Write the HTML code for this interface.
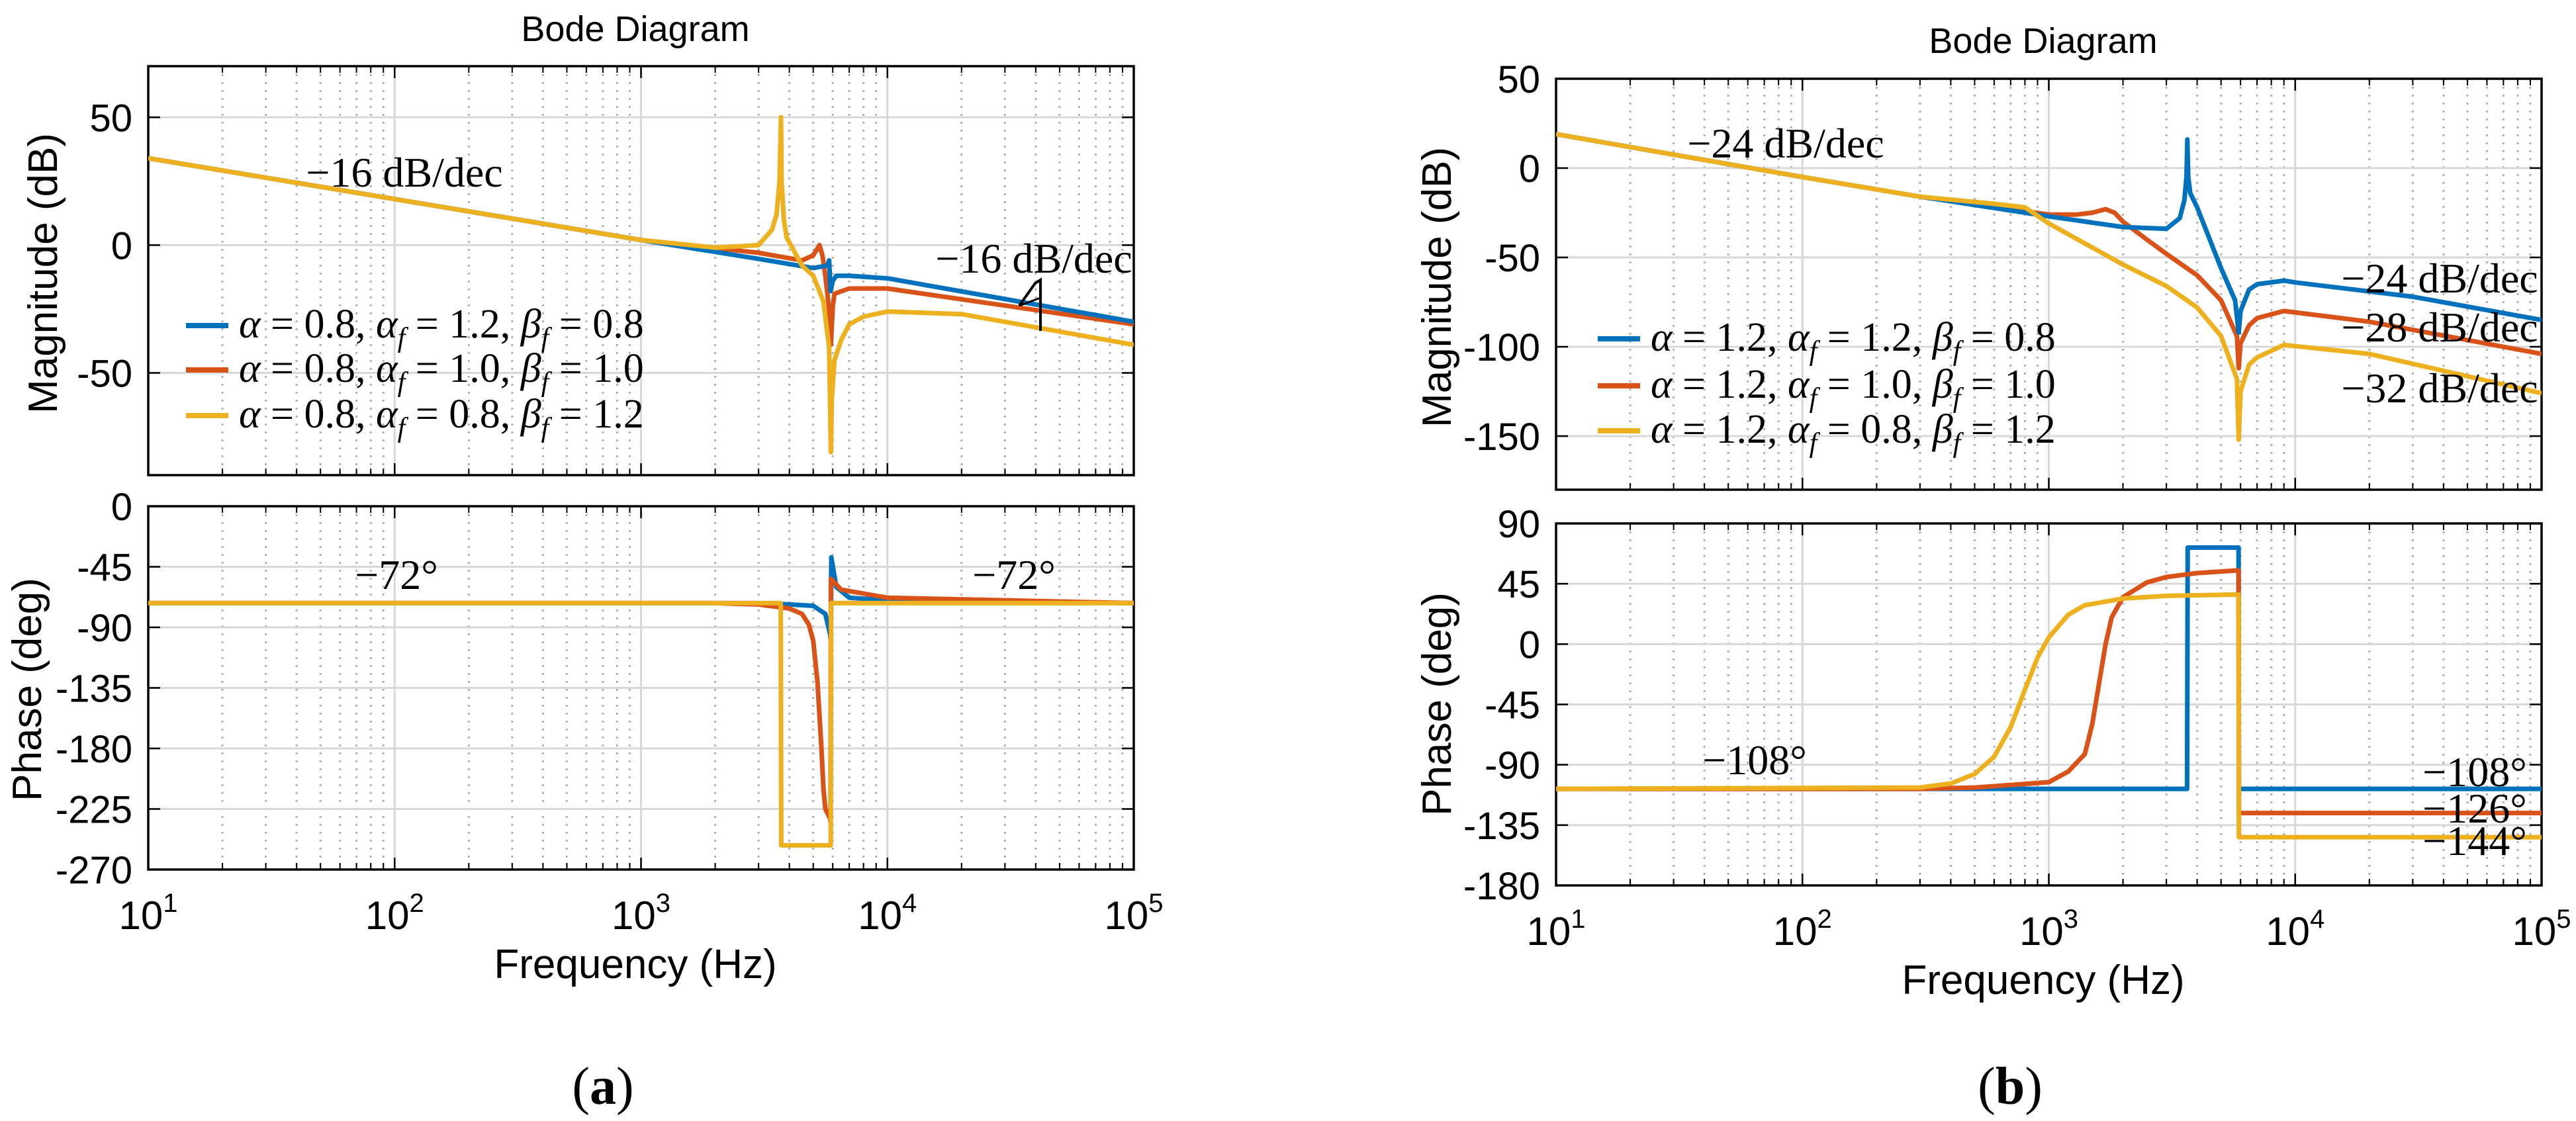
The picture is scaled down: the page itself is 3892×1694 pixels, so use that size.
<!DOCTYPE html>
<html><head><meta charset="utf-8"><style>
html,body{margin:0;padding:0;background:#fff;}
svg{display:block;}
text{font-family:"Liberation Sans",sans-serif;}
.serif{font-family:"Liberation Serif",serif;}
</style></head><body>
<svg id="fig" width="3892" height="1694" viewBox="0 0 3892 1694" xmlns="http://www.w3.org/2000/svg"></svg>
<script>
// ---------- DATA (freq Hz, value) ----------
const aMagBlue = [[10,34],[100,18],[1000,2],[3000,-5.4],[5000,-9],[5700,-8],[5800,-6],[5880,-18],[6000,-14],[6200,-12],[7000,-12],[10000,-13],[100000,-30]];
const aMagRed = [[10,34],[100,18],[1000,2],[3000,-3],[4500,-6],[5000,-4],[5300,0],[5450,-4],[5600,-12],[5800,-25],[5900,-39],[6000,-24],[6100,-19],[7000,-17],[10000,-17],[100000,-31]];
const aMagYellow = [[10,34],[100,18],[1000,2],[2000,-1],[3000,0],[3400,6],[3550,12],[3650,25],[3700,50],[3720,25],[3800,10],[3900,3],[4500,-8],[5000,-12],[5500,-22],[5800,-40],[5900,-81],[5950,-60],[6100,-45],[6500,-37],[7000,-31],[8000,-28],[10000,-26],[20000,-27],[100000,-39]];
const aPhBlue = [[10,-72],[3000,-72],[4000,-73],[5000,-74],[5600,-80],[5850,-95],[5900,-100],[5920,-38],[6200,-60],[7000,-68],[10000,-70],[100000,-72]];
const aPhRed = [[10,-72],[2000,-72],[3000,-73],[4000,-76],[4500,-80],[4800,-88],[5000,-100],[5200,-130],[5400,-180],[5500,-210],[5600,-225],[5850,-232],[5880,-235],[5900,-54],[6500,-62],[10000,-68],[100000,-72]];
const aPhYellow = [[10,-72],[3690,-72],[3710,-252],[5890,-252],[5910,-72],[100000,-72]];

const bMagBlue = [[10,19],[100,-5],[300,-16],[1000,-27],[2000,-33],[3000,-34],[3400,-28],[3550,-18],[3620,-5],[3650,16],[3680,-5],[3750,-14],[4000,-22],[5000,-56],[5700,-74],[5900,-92],[6000,-80],[6500,-68],[7000,-65],[9000,-63],[10000,-64],[30000,-72],[100000,-85]];
const bMagRed = [[10,19],[100,-5],[300,-16],[1000,-26],[1300,-26],[1500,-25],[1700,-23],[1850,-25],[2000,-30],[2500,-40],[3000,-48],[4000,-60],[5000,-74],[5800,-94],[5900,-112],[6000,-98],[6500,-88],[7000,-84],[9000,-80],[20000,-86],[100000,-104]];
const bMagYellow = [[10,19],[100,-5],[300,-16],[600,-20],[800,-22],[1000,-31],[2000,-54],[3000,-66],[4000,-78],[5000,-94],[5800,-118],[5900,-152],[6000,-125],[6500,-110],[7000,-106],[9000,-99],[20000,-104],[100000,-126]];
const bPhBlue = [[10,-108],[3640,-108],[3660,72],[5890,72],[5910,-108],[100000,-108]];
const bPhRed = [[10,-108],[300,-108],[500,-107],[1000,-103],[1200,-95],[1400,-82],[1500,-60],[1600,-29],[1700,0],[1800,20],[2000,35],[2500,46],[3000,50],[4000,53],[5890,55],[5910,-126],[100000,-126]];
const bPhYellow = [[10,-108],[300,-107],[400,-104],[500,-97],[600,-84],[700,-62],[800,-34],[900,-10],[1000,5],[1200,22],[1400,29],[2000,34],[3000,36],[5890,37],[5910,-144],[100000,-144]];

const magTicksA = [50,0,-50];
const phTicksA = [0,-45,-90,-135,-180,-225,-270];
const magTicksB = [50,0,-50,-100,-150];
const phTicksB = [90,45,0,-45,-90,-135,-180];
const decades = [1,2,3,4,5];

const COLORS = ['#0072BD','#D95319','#EDB120'];
const NS='http://www.w3.org/2000/svg';
const svg=document.getElementById('fig');
function el(tag,attrs,parent){const e=document.createElementNS(NS,tag);for(const k in attrs)e.setAttribute(k,attrs[k]);(parent||svg).appendChild(e);return e;}

function axes(name,x0,x1,y0,y1,ymin,ymax,yticks,showX){
  const g=el('g',{});
  
  
  const X=f=>x0+(Math.log10(f)-1)/4*(x1-x0);
  const Y=v=>y1-(v-ymin)/(ymax-ymin)*(y1-y0);
  for(let d=1;d<5;d++)for(let m=2;m<10;m++){
    const x=X(m*Math.pow(10,d));
    const l=el('line',{x1:x,x2:x,y1:y0,y2:y1,stroke:'#b0b0b0','stroke-width':3,'stroke-dasharray':'3,9'},g);
    
    el('line',{x1:x,x2:x,y1:y1,y2:y1-10,stroke:'#000','stroke-width':2},g);
    el('line',{x1:x,x2:x,y1:y0,y2:y0+10,stroke:'#000','stroke-width':2},g);
  }
  decades.forEach(d=>{
    const x=X(Math.pow(10,d));
    el('line',{x1:x,x2:x,y1:y0,y2:y1,stroke:'#d8d8d8','stroke-width':3},g);
    el('line',{x1:x,x2:x,y1:y1,y2:y1-18,stroke:'#000','stroke-width':2.5},g);
    el('line',{x1:x,x2:x,y1:y0,y2:y0+18,stroke:'#000','stroke-width':2.5},g);
    if(showX){
      const t=el('text',{x:x,y:y1+90,'font-size':60,'text-anchor':'middle'},g);
      
      
      t.textContent='10';
      const s=el('tspan',{dy:-26,'font-size':40},t);s.textContent=String(d);
    }
  });
  yticks.forEach(v=>{
    const y=Y(v);
    if(v!==ymax&&v!==ymin) el('line',{x1:x0,x2:x1,y1:y,y2:y,stroke:'#d8d8d8','stroke-width':3},g);
    el('line',{x1:x0,x2:x0+18,y1:y,y2:y,stroke:'#000','stroke-width':2.5},g);
    el('line',{x1:x1,x2:x1-18,y1:y,y2:y,stroke:'#000','stroke-width':2.5},g);
    const t=el('text',{x:x0-24,y:y+21,'font-size':58,'text-anchor':'end'},g);
    
    
    t.textContent=String(v);
  });
  el('rect',{x:x0,y:y0,width:x1-x0,height:y1-y0,fill:'none',stroke:'#000','stroke-width':3.5},g);
  return {X,Y,g,x0,x1,y0,y1};
}
function series(ax,data,color,name){
  const cp=el('clipPath',{id:'c'+name});
  el('rect',{x:ax.x0,y:ax.y0,width:ax.x1-ax.x0,height:ax.y1-ax.y0},cp);
  const p=el('polyline',{points:data.map(d=>ax.X(d[0]).toFixed(1)+','+ax.Y(d[1]).toFixed(1)).join(' '),fill:'none',stroke:color,'stroke-width':7,'stroke-linejoin':'round','clip-path':'url(#c'+name+')'});
  
  
}
function txt(x,y,s,size,cls,anchor,name){
  const t=el('text',{x:x,y:y,'font-size':size,'text-anchor':anchor||'middle'});
  if(cls)t.setAttribute('class',cls);
  
  
  t.textContent=s;return t;
}
function legend(x,y,color,a,af,bf,name){
  el('line',{x1:x,x2:x+64,y1:y-18,y2:y-18,stroke:color,'stroke-width':8});
  const t=el('text',{x:x+80,y:y,'font-size':62,class:'serif'});
  
  
  const parts=[['α','i'],[' = '+a+', ',''],['α','i'],['f','s'],[' = '+af+', ',''],['β','i'],['f','s'],[' = '+bf,'']];
  parts.forEach((p,i)=>{const s=el('tspan',{},t);s.textContent=p[0];
    if(p[1]==='i')s.setAttribute('font-style','italic');
    if(p[1]==='s'){s.setAttribute('font-style','italic');s.setAttribute('font-size',42);s.setAttribute('dy',14);}
    else if(i>0 && parts[i-1][1]==='s'){s.setAttribute('dy',-14);}
  });
}

// ---------- Plot (a) ----------
const am=axes('magnitude-axes-a',224,1713,100,718,-90,70,magTicksA,false);
const ap=axes('phase-axes-a',224,1713,765,1314,-270,0,phTicksA,true);
series(am,aMagRed,COLORS[1],'mag-a-red');
series(am,aMagBlue,COLORS[0],'mag-a-blue');
series(am,aMagYellow,COLORS[2],'mag-a-yellow');
series(ap,aPhBlue,COLORS[0],'phase-a-blue');
series(ap,aPhRed,COLORS[1],'phase-a-red');
series(ap,aPhYellow,COLORS[2],'phase-a-yellow');
txt(960,62,'Bode Diagram',54,'','middle','title-a');
txt(960,1478,'Frequency  (Hz)',62,'','middle','x-axis-title-a');
let t=txt(0,0,'Magnitude (dB)',62,'','middle','y-axis-title-mag-a');t.setAttribute('transform','translate(86,413) rotate(-90)');
t=txt(0,0,'Phase (deg)',62,'','middle','y-axis-title-phase-a');t.setAttribute('transform','translate(62,1042) rotate(-90)');
txt(611,282,'−16 dB/dec',64,'serif','middle','slope-label-a-low');
txt(1562,412,'−16 dB/dec',64,'serif','middle','slope-label-a-high');
el('polyline',{points:'1540,462 1564,428 1572,423 1572,500',fill:'none',stroke:'#000','stroke-width':4});
el('line',{x1:1540,y1:462,x2:1572,y2:450,stroke:'#000','stroke-width':3});
txt(599,890,'−72°',64,'serif','middle','phase-label-a-low');
txt(1532,890,'−72°',64,'serif','middle','phase-label-a-high');
legend(281,510,COLORS[0],'0.8','1.2','0.8','legend-a-blue');
legend(281,577,COLORS[1],'0.8','1.0','1.0','legend-a-red');
legend(281,646,COLORS[2],'0.8','0.8','1.2','legend-a-yellow');
t=txt(911,1668,'(',80,'serif','middle','caption-a');
let s=el('tspan',{'font-weight':'bold'},t);s.textContent='a';
s=el('tspan',{},t);s.textContent=')';
t.firstChild.textContent='(';

// ---------- Plot (b) ----------
const bm=axes('magnitude-axes-b',2351,3840,119,740,-180,50,magTicksB,false);
const bp=axes('phase-axes-b',2351,3840,791,1338,-180,90,phTicksB,true);
series(bm,bMagRed,COLORS[1],'mag-b-red');
series(bm,bMagBlue,COLORS[0],'mag-b-blue');
series(bm,bMagYellow,COLORS[2],'mag-b-yellow');
series(bp,bPhBlue,COLORS[0],'phase-b-blue');
series(bp,bPhRed,COLORS[1],'phase-b-red');
series(bp,bPhYellow,COLORS[2],'phase-b-yellow');
txt(3087,80,'Bode Diagram',54,'','middle','title-b');
txt(3087,1502,'Frequency  (Hz)',62,'','middle','x-axis-title-b');
t=txt(0,0,'Magnitude (dB)',62,'','middle','y-axis-title-mag-b');t.setAttribute('transform','translate(2192,434) rotate(-90)');
t=txt(0,0,'Phase (deg)',62,'','middle','y-axis-title-phase-b');t.setAttribute('transform','translate(2192,1064) rotate(-90)');
txt(2698,238,'−24 dB/dec',64,'serif','middle','slope-label-b-low');
txt(3686,442,'−24 dB/dec',64,'serif','middle','slope-label-b-blue');
txt(3686,516,'−28 dB/dec',64,'serif','middle','slope-label-b-red');
txt(3686,608,'−32 dB/dec',64,'serif','middle','slope-label-b-yellow');
txt(2651,1170,'−108°',64,'serif','middle','phase-label-b-low');
txt(3739,1188,'−108°',64,'serif','middle','phase-label-b-blue');
txt(3739,1243,'−126°',64,'serif','middle','phase-label-b-red');
txt(3739,1292,'−144°',64,'serif','middle','phase-label-b-yellow');
legend(2414,530,COLORS[0],'1.2','1.2','0.8','legend-b-blue');
legend(2414,601,COLORS[1],'1.2','1.0','1.0','legend-b-red');
legend(2414,669,COLORS[2],'1.2','0.8','1.2','legend-b-yellow');
t=txt(3037,1668,'(',80,'serif','middle','caption-b');
s=el('tspan',{'font-weight':'bold'},t);s.textContent='b';
s=el('tspan',{},t);s.textContent=')';
</script>
</body></html>
